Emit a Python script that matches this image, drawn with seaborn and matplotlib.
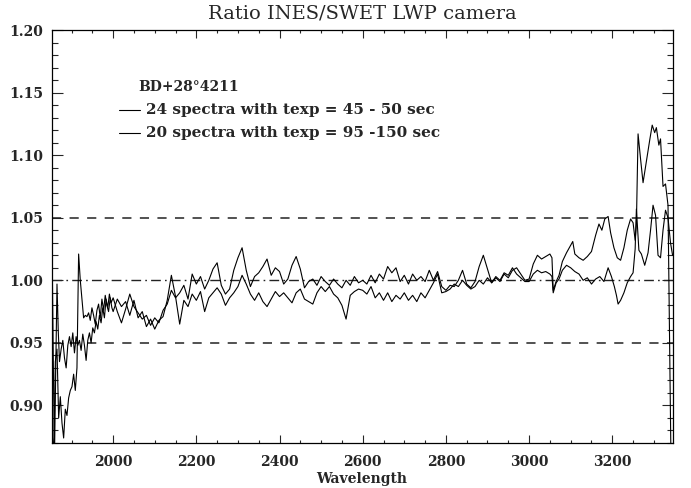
import matplotlib
matplotlib.use("Agg")
import matplotlib.pyplot as plt
from matplotlib.ticker import MultipleLocator, FixedLocator
from matplotlib.lines import Line2D
import seaborn as sns
import numpy as np
import pandas as pd

# ---- data ----
wl_a = [1851, 1854, 1857, 1859, 1862, 1865, 1868, 1871, 1875, 1879, 1883, 1887, 1891, 1895, 1899,
        1903, 1907, 1911, 1915, 1919, 1923, 1927, 1931, 1935, 1939, 1943, 1947, 1951, 1955, 1959,
        1963, 1967, 1971, 1975, 1979, 1983, 1987, 1991, 1995, 2000,
        2010, 2020, 2030, 2040, 2050, 2060, 2070, 2080, 2090, 2100, 2110, 2120, 2130, 2140, 2150,
        2160, 2170, 2180, 2190, 2200, 2210, 2220, 2230, 2240, 2250, 2260, 2270, 2280, 2290, 2300,
        2310, 2320, 2330, 2340, 2350, 2360, 2370, 2380, 2390, 2400, 2410, 2420, 2430, 2440, 2450,
        2460, 2470, 2480, 2490, 2500, 2510, 2520, 2530, 2540, 2550, 2560, 2570, 2580, 2590, 2600,
        2610, 2620, 2630, 2640, 2650, 2660, 2670, 2680, 2690, 2700, 2710, 2720, 2730, 2740, 2750,
        2760, 2770, 2780, 2790, 2800, 2810, 2820, 2830, 2840, 2850, 2860, 2870, 2880, 2890, 2900,
        2910, 2920, 2930, 2940, 2950, 2960, 2970, 2980, 2990, 3000, 3010, 3020, 3030, 3040, 3050,
        3055, 3058, 3065, 3072, 3080, 3090, 3100, 3105, 3110, 3120, 3130, 3140, 3150, 3160, 3168,
        3175, 3182, 3190, 3196, 3204, 3212, 3220, 3228, 3236, 3244, 3250, 3255, 3258, 3262, 3268,
        3274, 3282, 3290, 3296, 3302, 3306, 3312, 3316, 3322, 3328, 3334, 3341]
ratio_a = [1.068, 1.000, 0.910, 0.860, 0.930, 0.997, 0.960, 0.935, 0.945, 0.952, 0.938, 0.930, 0.948, 0.955, 0.947,
           0.958, 0.942, 0.955, 0.948, 0.952, 0.944, 0.957, 0.948, 0.936, 0.952, 0.958, 0.950, 0.962, 0.958, 0.967,
           0.961, 0.972, 0.966, 0.978, 0.970, 0.985, 0.978, 0.989, 0.982, 0.986,
           0.975, 0.966, 0.977, 0.989, 0.979, 0.974, 0.969, 0.972, 0.964, 0.970, 0.966, 0.976, 0.981, 0.992, 0.986,
           0.990, 0.996, 0.985, 1.005, 0.997, 1.003, 0.993, 1.000, 1.009, 1.014, 0.996, 0.989, 0.993, 1.008, 1.018,
           1.026, 1.008, 0.995, 1.003, 1.006, 1.011, 1.017, 1.004, 1.010, 1.007, 0.997, 1.001, 1.012, 1.019, 1.009,
           0.994, 0.999, 1.001, 0.996, 1.003, 0.999, 0.996, 1.001, 0.997, 0.994, 1.000, 0.996, 1.003, 0.998, 1.000,
           0.997, 1.004, 0.998, 1.005, 1.001, 1.011, 1.006, 1.010, 0.999, 1.004, 0.997, 1.005, 1.000, 1.003, 0.999,
           1.008, 1.000, 1.007, 0.995, 0.992, 0.996, 0.995, 1.000, 1.008, 0.997, 0.994, 0.999, 1.011, 1.020, 1.009,
           0.998, 1.002, 0.999, 1.005, 1.002, 1.008, 1.010, 1.005, 1.000, 1.001, 1.013, 1.020, 1.017, 1.019, 1.021,
           1.018, 0.992, 0.999, 1.004, 1.015, 1.022, 1.028, 1.031, 1.021, 1.018, 1.016, 1.019, 1.023, 1.036, 1.045,
           1.040, 1.049, 1.051, 1.038, 1.026, 1.018, 1.016, 1.026, 1.040, 1.049, 1.046, 1.032, 1.045, 1.117, 1.097,
           1.078, 1.095, 1.112, 1.124, 1.118, 1.122, 1.108, 1.113, 1.075, 1.077, 1.060, 0.860]

wl_b = [1851, 1854, 1857, 1861, 1865, 1869, 1873, 1877, 1881, 1885, 1889, 1893, 1897, 1901, 1905,
        1909, 1913, 1917, 1921, 1925, 1929, 1933, 1937, 1941, 1945, 1949, 1953, 1957, 1961, 1965,
        1969, 1973, 1977, 1981, 1985, 1989, 1993, 1997, 2000,
        2010, 2020, 2030, 2040, 2050, 2060, 2070, 2080, 2090, 2100, 2110, 2120, 2130, 2140, 2150,
        2160, 2170, 2180, 2190, 2200, 2210, 2220, 2230, 2240, 2250, 2260, 2270, 2280, 2290, 2300,
        2310, 2320, 2330, 2340, 2350, 2360, 2370, 2380, 2390, 2400, 2410, 2420, 2430, 2440, 2450,
        2460, 2470, 2480, 2490, 2500, 2510, 2520, 2530, 2540, 2550, 2560, 2570, 2580, 2590, 2600,
        2610, 2620, 2630, 2640, 2650, 2660, 2670, 2680, 2690, 2700, 2710, 2720, 2730, 2740, 2750,
        2760, 2770, 2780, 2790, 2800, 2810, 2820, 2830, 2840, 2850, 2860, 2870, 2880, 2890, 2900,
        2910, 2920, 2930, 2940, 2950, 2960, 2970, 2980, 2990, 3000, 3010, 3020, 3030, 3040, 3050,
        3055, 3058, 3065, 3072, 3080, 3090, 3100, 3110, 3120, 3130, 3140, 3150, 3160, 3170, 3180,
        3190, 3198, 3205, 3210, 3214, 3220, 3228, 3236, 3244, 3250, 3255, 3258, 3264, 3270, 3278,
        3286, 3292, 3298, 3304, 3310, 3316, 3322, 3328, 3334, 3340, 3345]
ratio_b = [0.920, 0.875, 0.860, 0.935, 0.945, 0.890, 0.907, 0.886, 0.874, 0.897, 0.892, 0.906, 0.912, 0.915, 0.925,
           0.912, 0.930, 1.021, 1.000, 0.985, 0.970, 0.972, 0.971, 0.974, 0.968, 0.978, 0.972, 0.965, 0.976, 0.981,
           0.970, 0.985, 0.976, 0.988, 0.980, 0.975, 0.986, 0.978, 0.975,
           0.985, 0.979, 0.983, 0.972, 0.984, 0.970, 0.975, 0.963, 0.969, 0.961, 0.968, 0.971, 0.984, 1.004, 0.987,
           0.965, 0.984, 0.979, 0.989, 0.984, 0.991, 0.975, 0.986, 0.990, 0.994, 0.989, 0.980, 0.986, 0.990, 0.995,
           1.004, 0.997, 0.989, 0.984, 0.990, 0.983, 0.979, 0.985, 0.991, 0.987, 0.990, 0.986, 0.982, 0.990, 0.993,
           0.985, 0.983, 0.981, 0.990, 0.995, 0.991, 0.995, 0.989, 0.986, 0.980, 0.969, 0.988, 0.991, 0.993, 0.992,
           0.989, 0.995, 0.986, 0.990, 0.984, 0.990, 0.983, 0.988, 0.985, 0.990, 0.984, 0.988, 0.983, 0.990, 0.986,
           0.992, 0.998, 1.005, 0.990, 0.991, 0.993, 0.997, 0.995, 1.000, 0.996, 0.993, 0.995, 1.000, 0.997, 1.002,
           0.998, 1.003, 1.000, 1.006, 1.004, 1.010, 1.005, 1.002, 0.999, 0.999, 1.005, 1.008, 1.006, 1.007, 1.005,
           1.003, 0.990, 0.998, 1.001, 1.008, 1.012, 1.010, 1.007, 1.005, 1.000, 1.002, 0.997, 1.001, 1.003, 0.999,
           1.010, 1.003, 0.995, 0.988, 0.981, 0.984, 0.990, 0.998, 1.003, 1.006, 1.025, 1.057, 1.024, 1.021, 1.012,
           1.022, 1.040, 1.060, 1.052, 1.020, 1.018, 1.040, 1.056, 1.050, 1.030, 1.020]

ref_levels = [0.95, 1.00, 1.05]
x_ticks = [2000, 2200, 2400, 2600, 2800, 3000, 3200]
y_ticks = [0.90, 0.95, 1.00, 1.05, 1.10, 1.15, 1.20]
title = "Ratio INES/SWET LWP camera"
star_name = "BD+28°4211"
series_labels = ["24 spectra with texp = 45 - 50 sec", "20 spectra with texp = 95 -150 sec"]

df_a = pd.DataFrame({"wl": wl_a, "ratio": ratio_a})
df_b = pd.DataFrame({"wl": wl_b, "ratio": ratio_b})

sns.set_style("ticks")
plt.rcParams["font.family"] = ["DejaVu Serif", "DejaVu Sans"]

W, H = 691, 488
fig = plt.figure(figsize=(W / 100, H / 100), dpi=100)
ax = fig.add_axes([52 / W, 1 - 443 / H, (673 - 52) / W, (443 - 30) / H])

# reference lines
ax.axhline(ref_levels[0], color="#222222", lw=1.1, dashes=(6, 5.5), zorder=1)
ax.axhline(ref_levels[2], color="#222222", lw=1.1, dashes=(6, 5.5), zorder=1)
ax.axhline(ref_levels[1], color="#222222", lw=1.0, dashes=(7, 3, 1.2, 3), zorder=1)

sns.lineplot(data=df_a, x="wl", y="ratio", ax=ax, color="black", lw=0.8,
             estimator=None, sort=False, zorder=3)
sns.lineplot(data=df_b, x="wl", y="ratio", ax=ax, color="black", lw=0.8,
             estimator=None, sort=False, zorder=3)

ax.set_xlim(1853, 3346)
ax.set_ylim(0.87, 1.20)
ax.xaxis.set_major_locator(FixedLocator(x_ticks))
ax.xaxis.set_minor_locator(MultipleLocator(50))
ax.yaxis.set_major_locator(FixedLocator(y_ticks))
ax.yaxis.set_minor_locator(MultipleLocator(0.01))
ax.set_yticklabels([f"{v:.2f}" for v in y_ticks])
ax.set_xticklabels([str(v) for v in x_ticks])

ax.tick_params(axis="x", which="major", direction="in", length=5.6, width=0.8,
               top=True, bottom=True, pad=9, labelsize=10)
ax.tick_params(axis="x", which="minor", direction="in", length=2.2, width=0.8,
               top=True, bottom=True)
ax.tick_params(axis="y", which="major", direction="in", length=7.7, width=0.8,
               left=True, right=True, pad=6.5, labelsize=10)
ax.tick_params(axis="y", which="minor", direction="in", length=4.0, width=0.8,
               left=True, right=True)
for lab in ax.get_xticklabels() + ax.get_yticklabels():
    lab.set_fontweight("bold")
for sp in ax.spines.values():
    sp.set_linewidth(0.9)
    sp.set_color("black")

ax.set_xlabel("")
ax.set_ylabel("")

fig.text(0.5 * (52 + 673) / W, 1 - 14 / H, title, ha="center", va="center",
         fontsize=14)
fig.text(362 / W, 1 - 479 / H, "Wavelength", ha="center", va="center",
         fontsize=10, fontweight="bold")

# legend block
fig.text(138 / W, 1 - 87 / H, star_name, ha="left", va="center", fontsize=10,
         fontweight="bold")
for i, (lab, yy) in enumerate(zip(series_labels, [110, 133])):
    fig.add_artist(Line2D([119 / W, 140 / W], [1 - yy / H, 1 - yy / H], color="black",
                          lw=0.8, transform=fig.transFigure))
    fig.text(146 / W, 1 - yy / H, lab, ha="left", va="center", fontsize=11,
             fontweight="bold")

fig.savefig("out.png", dpi=100)
